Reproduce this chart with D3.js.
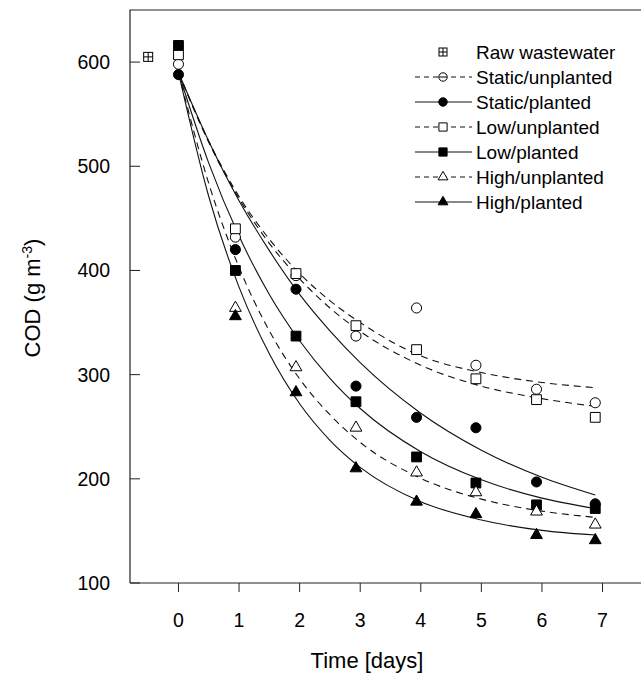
<!DOCTYPE html>
<html>
<head>
<meta charset="utf-8">
<script src="https://cdn.jsdelivr.net/npm/d3@7"></script>
<style>
  body { margin: 0; background: #fff; }
  svg text { font-family: "Liberation Sans", Arial, sans-serif; fill: #000; }
</style>
</head>
<body>
<svg id="chart"></svg>
<script>

// sampling days of the measured points
const days = [0, 0.94, 1.94, 2.93, 3.93, 4.91, 5.91, 6.88];

// measured COD (g m-3)
const staticUnplanted = [598, 432, 395, 337, 364, 309, 286, 273];
const staticPlanted   = [588, 420, 382, 289, 259, 249, 197, 176];
const lowUnplanted    = [607, 440, 397, 347, 324, 296, 276, 259];
const lowPlanted      = [616, 400, 337, 274, 221, 196, 175, 171.5];
const highUnplanted   = [null, 364, 307, 249, 206, 187, 168.5, 156];
const highPlanted     = [null, 356, 283, 210, 178, 166, 146, 141];

const rawDay = -0.5;
const rawCOD = 605;

// fitted curves
const fitDays = [0, 0.5, 1, 1.5, 2, 2.5, 3, 4, 5, 6, 6.88];
const fitStaticUnplanted = [590, 524, 471, 430, 397, 371, 350, 318, 302, 292.5, 287.5];
const fitStaticPlanted   = [590, 524, 467, 419, 377, 342, 311.5, 263, 227.5, 201.5, 184.5];
const fitLowUnplanted    = [590, 523, 469, 426, 392, 364, 341.5, 309, 289, 277, 269.5];
const fitLowPlanted      = [590, 503, 433, 377, 332.5, 296.5, 267.5, 226, 199, 181.5, 171.5];
const fitHighUnplanted   = [590, 483.5, 403, 342, 296, 261.5, 235, 200.5, 180.5, 169, 163];
const fitHighPlanted     = [590, 471, 384, 320, 272, 237, 211, 178, 160.5, 150.5, 146];

const xTicks = [0, 1, 2, 3, 4, 5, 6, 7];
const yTicks = [100, 200, 300, 400, 500, 600];

const series = [
    { name: "Static/unplanted", values: staticUnplanted, fit: fitStaticUnplanted, symbol: d3.symbolCircle,   filled: false, dashed: true  },
    { name: "Static/planted",   values: staticPlanted,   fit: fitStaticPlanted,   symbol: d3.symbolCircle,   filled: true,  dashed: false },
    { name: "Low/unplanted",    values: lowUnplanted,    fit: fitLowUnplanted,    symbol: d3.symbolSquare,   filled: false, dashed: true  },
    { name: "Low/planted",      values: lowPlanted,      fit: fitLowPlanted,      symbol: d3.symbolSquare,   filled: true,  dashed: false },
    { name: "High/unplanted",   values: highUnplanted,   fit: fitHighUnplanted,   symbol: d3.symbolTriangle, filled: false, dashed: true  },
    { name: "High/planted",     values: highPlanted,     fit: fitHighPlanted,     symbol: d3.symbolTriangle, filled: true,  dashed: false },
];

class DecayChart {

    constructor(config) {
        this.config = {
            parent: config.parent,
            width : config.width  || 641,
            height: config.height || 674,
            left  : 130,
            top   : 10,
            right : 651,
            bottom: 583,
        }
        this.init();
    }

    init() {
        let self = this;

        self.svg = d3.select(self.config.parent)
            .attr('width', self.config.width)
            .attr('height', self.config.height);

        self.x = d3.scaleLinear()
            .domain([-0.8, 7.8])
            .range([self.config.left, self.config.right]);

        self.y = d3.scaleLinear()
            .domain([100, 650])
            .range([self.config.bottom, self.config.top]);

        // symbol sizes are areas
        self.sizeOf = s => s === d3.symbolCircle ? 80 : (s === d3.symbolSquare ? 96 : 60);
    }

    render() {
        let self = this;
        const c = self.config;

        // frame
        self.svg.append('path')
            .attr('d', `M${c.left},${c.bottom}V${c.top}H${c.right + 5}M${c.left},${c.bottom}H${c.right + 5}`)
            .attr('fill', 'none')
            .attr('stroke', '#222')
            .attr('stroke-width', 1.2);

        // x ticks, pointing down
        self.svg.append('g').selectAll('line')
            .data(xTicks)
            .join('line')
            .attr('x1', d => self.x(d)).attr('x2', d => self.x(d))
            .attr('y1', c.bottom).attr('y2', c.bottom + 9)
            .attr('stroke', '#222');

        self.svg.append('g').selectAll('text')
            .data(xTicks)
            .join('text')
            .attr('x', d => self.x(d))
            .attr('y', 627)
            .attr('text-anchor', 'middle')
            .style('font-size', '19.5px')
            .text(d => d);

        // y ticks, pointing in
        self.svg.append('g').selectAll('line')
            .data(yTicks)
            .join('line')
            .attr('x1', c.left).attr('x2', c.left + 10)
            .attr('y1', d => self.y(d)).attr('y2', d => self.y(d))
            .attr('stroke', '#222');

        self.svg.append('g').selectAll('text')
            .data(yTicks)
            .join('text')
            .attr('x', 110)
            .attr('y', d => self.y(d) + 7)
            .attr('text-anchor', 'end')
            .style('font-size', '19.5px')
            .text(d => d);

        // axis titles
        self.svg.append('text')
            .attr('x', 367)
            .attr('y', 668)
            .attr('text-anchor', 'middle')
            .style('font-size', '22px')
            .text('Time [days]');

        const yt = self.svg.append('text')
            .attr('transform', 'translate(40,298) rotate(-90)')
            .attr('text-anchor', 'middle')
            .style('font-size', '22px');
        yt.append('tspan').text('COD (g m');
        yt.append('tspan').attr('dy', -8).style('font-size', '14px').text('-3');
        yt.append('tspan').attr('dy', 8).text(')');

        // fitted curves
        const line = d3.line()
            .x((d, i) => self.x(fitDays[i]))
            .y(d => self.y(d))
            .curve(d3.curveMonotoneX);

        series.forEach(s => {
            self.svg.append('path')
                .datum(s.fit)
                .attr('d', line)
                .attr('fill', 'none')
                .attr('stroke', '#111')
                .attr('stroke-width', 1.1)
                .attr('stroke-dasharray', s.dashed ? '7,5' : null);
        });

        // measured points
        series.forEach(s => {
            const pts = s.values.map((v, i) => ({ t: days[i], v: v })).filter(d => d.v != null);
            self.svg.append('g').selectAll('path')
                .data(pts)
                .join('path')
                .attr('transform', d => `translate(${self.x(d.t)},${self.y(d.v)})`)
                .attr('d', d3.symbol(s.symbol, self.sizeOf(s.symbol)))
                .attr('fill', s.filled ? '#000' : '#fff')
                .attr('stroke', '#000')
                .attr('stroke-width', 1);
        });

        // raw wastewater
        self.drawRaw(self.svg, self.x(rawDay), self.y(rawCOD), 4.5);

        // legend
        const lg = self.svg.append('g');
        const rowY = i => 52 + i * 25;

        self.drawRaw(lg, 443, rowY(0), 4);
        lg.append('text').attr('x', 476).attr('y', rowY(0) + 7)
            .style('font-size', '19px').text('Raw wastewater');

        series.forEach((s, k) => {
            const i = k + 1;
            lg.append('line')
                .attr('x1', 415).attr('x2', 472)
                .attr('y1', rowY(i)).attr('y2', rowY(i))
                .attr('stroke', '#111')
                .attr('stroke-width', 1)
                .attr('stroke-dasharray', s.dashed ? '5,4' : null);
            lg.append('path')
                .attr('transform', `translate(443,${rowY(i)})`)
                .attr('d', d3.symbol(s.symbol, self.sizeOf(s.symbol) * 0.7))
                .attr('fill', s.filled ? '#000' : '#fff')
                .attr('stroke', '#000');
            if (!s.filled && s.symbol === d3.symbolCircle) {
                lg.append('line')
                    .attr('x1', 439).attr('x2', 447)
                    .attr('y1', rowY(i)).attr('y2', rowY(i))
                    .attr('stroke', '#000');
            }
            lg.append('text').attr('x', 476).attr('y', rowY(i) + 7)
                .style('font-size', '19px').text(s.name);
        });
    }

    // square with a cross
    drawRaw(g, cx, cy, h) {
        g.append('rect')
            .attr('x', cx - h).attr('y', cy - h)
            .attr('width', 2 * h).attr('height', 2 * h)
            .attr('fill', '#fff').attr('stroke', '#000');
        g.append('path')
            .attr('d', `M${cx - h},${cy}H${cx + h}M${cx},${cy - h}V${cy + h}`)
            .attr('stroke', '#000');
    }
}

const chart = new DecayChart({ parent: '#chart', width: 641, height: 674 });
chart.render();
</script>
</body>
</html>
